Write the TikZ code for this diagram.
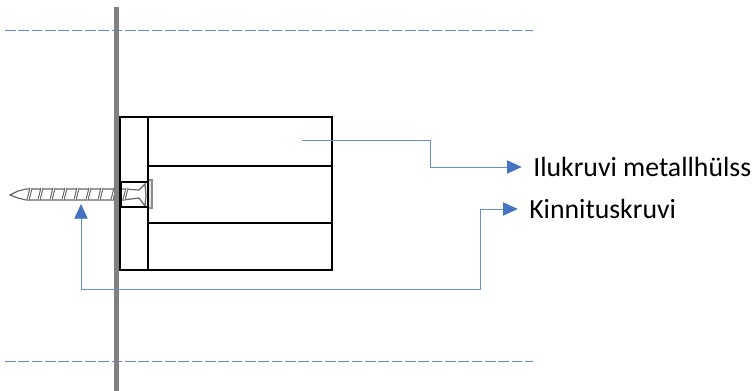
\documentclass[tikz,border=0pt]{standalone}
\usepackage{fontspec}
\setmainfont{Carlito}
\usetikzlibrary{arrows.meta}
\definecolor{callout}{RGB}{68,114,196}
\tikzset{
  outline/.style={draw=black,line width=1.6pt},
  calltip/.tip={Triangle[length=11pt,width=10pt,fill=callout,color=callout]},
  callline/.style={draw=callout!80,line width=0.6pt},
  guide/.style={draw=callout!85,line width=0.6pt,dash pattern=on 8pt off 2pt},
  screwline/.style={draw=black!60,line width=0.9pt},
  calltext/.style={anchor=west,inner sep=0pt,font=\fontsize{20.8pt}{24pt}\selectfont}
}
\begin{document}
\begin{tikzpicture}[x=0.75pt,y=-0.75pt]
	\useasboundingbox (0,0) rectangle (753,391);
	% guides
	\draw[guide] (5,30)-- (533,30);
	\draw[guide] (5,361)-- (533,361);
	% screw
	\draw[screwline,fill=white] (10,195)-- (18,191)-- (26,189)-- (123,189)-- (139,190)-- (145,184)-- (146,195)-- (145,206)-- (139,198)-- (123,200)-- (26,200)-- (18,198)-- cycle;
	\draw[draw=black!45,fill=black!10,line width=0.8pt] (148,180) rectangle (152,208);
	\foreach \x in {28,39,51,63,75,87,99,112,124} {
		\draw[draw=black!60,line width=2.3pt] (\x,200)-- (\x+3,188);
		\draw[draw=white,line width=0.7pt] (\x,200)-- (\x+3,188);
	}
	% wall
	\draw[draw=black!50,line width=3.9pt] (116.5,7)-- (116.5,391);
	% sleeve
	\draw[outline] (120,117) rectangle (332,270);
	\draw[outline] (148,117)-- (148,270);
	\draw[outline] (148,166)-- (332,166);
	\draw[outline] (148,223)-- (332,223);
	\draw[outline] (121,182) rectangle (148,207);
	% labels
	\node[calltext] (sleevelabel) at (533,167) {Ilukruvi metallhülss};
	\node[calltext] (screwlabel) at (529,209) {Kinnituskruvi};
	\coordinate (sleevepoint) at (302,140);
	\coordinate (screwpoint) at (81,204);
	% callouts
	\draw[callline,-calltip] (sleevepoint)-- (430,140)-- (430,167)-- ([xshift=-8.5pt]sleevelabel.west);
	\draw[callline,calltip-calltip] ([xshift=-8.5pt]screwlabel.west)-- (480,209)-- (480,289)-- (81,289)-- (screwpoint);
\end{tikzpicture}
\end{document}
